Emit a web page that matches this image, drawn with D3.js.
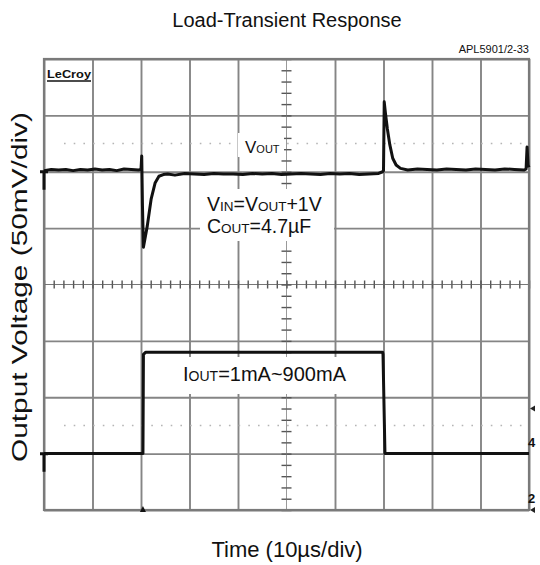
<!DOCTYPE html>
<head>
    <meta charset="utf-8">
    <title>Load-Transient Response</title>
    <script type="text/javascript" src="https://d3js.org/d3.v7.min.js"></script>
    <style>
        body { margin: 0; background: #fff; }
        text { font-family: "Liberation Sans", Arial, sans-serif; fill: #111; }
    </style>
</head>
<body>
<div id="container"></div>
<script>
    //----------------------------DATA-------------------------------//
    // time axis: 10 divisions of 10us
    const timeTicks = d3.range(0, 101, 10);
    // vertical axis: 8 divisions, values in div
    const divTicks = d3.range(-4, 5, 1);

    // Vout trace: time (us) and deviation from nominal (mV), 50mV/div
    const voutTime = [0, 1.5, 3, 4.5, 6, 7.5, 9, 10.5, 12, 13.5, 15, 16.5, 18, 19.5, 20.0, 20.15, 20.3,
        20.5, 21.3, 22.1, 22.9, 23.7, 24.6, 25.5, 27, 29, 31, 33, 35, 37, 39, 41, 43, 45,
        47, 49, 51, 53, 55, 57, 59, 61, 63, 65, 67, 69, 69.8, 70.0, 70.15, 70.4, 70.8, 71.3, 71.9,
        72.6, 73.5, 75, 77, 79, 81, 83, 85, 87, 89, 91, 93, 95, 97, 99, 99.4, 99.6, 99.8, 100];
    const voutMv = [1, 2, 1.5, 2, 1, 2, 1.5, 2.5, 1.5, 2, 1, 2.5, 2, 1.5, 2, 14, -30,
        -67, -48, -24, -10, -4, -2.5, -2, -3, -1.5, -2, -2.5, -1.5, -2, -2, -2.5, -1.5, -2,
        -1.5, -2.5, -2, -1.5, -2, -2.5, -1.5, -2, -1.5, -2.5, -2, -1.5, 0, 1, 62, 52, 38, 24, 12,
        6, 3, 1.5, 2.5, 2, 1.5, 2.5, 2, 1.5, 2.5, 2, 1.5, 2.5, 2, 1.5, 2.5, 22, 6, 4];
    const voutLevel = 100; // mV above screen centre

    // Iout trace: time (us) and load current (mA), 500mA/div
    const ioutTime = [0, 20.4, 20.5, 21.0, 69.8, 69.9, 70.3, 100];
    const ioutMa = [1, 1, 880, 900, 900, 880, 1, 1];
    const ioutLevel = -3; // div, zero-current position

    //---------------------------SVG---------------------------------//
    const width = 540, height = 565;
    const box = {left: 44, right: 529, top: 59, bottom: 510};

    const svg = d3.select("#container").append("svg")
        .attr("width", width)
        .attr("height", height);

    svg.append("rect").attr("width", width).attr("height", height).attr("fill", "#fff");

    const x = d3.scaleLinear().domain([0, 100]).range([box.left, box.right]);
    const y = d3.scaleLinear().domain([-4, 4]).range([box.bottom, box.top]);

    //---------------------------GRID--------------------------------//
    const gridColor = "#858585";

    const gx = svg.append("g")
        .attr("transform", `translate(0, ${box.bottom})`)
        .call(d3.axisBottom(x).tickValues(timeTicks).tickSize(-(box.bottom - box.top)).tickFormat(""));
    const gy = svg.append("g")
        .attr("transform", `translate(${box.left}, 0)`)
        .call(d3.axisLeft(y).tickValues(divTicks).tickSize(-(box.right - box.left)).tickFormat(""));
    [gx, gy].forEach(g => {
        g.select(".domain").remove();
        g.selectAll(".tick line").attr("stroke", gridColor).attr("stroke-width", 1.9);
    });
    // hide the centre gridlines, they are drawn thin with ticks below
    gx.selectAll(".tick line").filter(d => d === 50).remove();
    gy.selectAll(".tick line").filter(d => d === 0).remove();

    // dotted reference lines at +/-2.5 div
    [2.5, -2.5].forEach(v => {
        svg.append("line")
            .attr("x1", box.left + 20).attr("x2", box.right - 6)
            .attr("y1", y(v)).attr("y2", y(v))
            .attr("stroke", "#b5b5b5").attr("stroke-width", 1.6)
            .attr("stroke-dasharray", "1.6,8.1");
    });

    // centre axes with minor ticks (1/5 div)
    svg.append("line")
        .attr("x1", x(50)).attr("x2", x(50)).attr("y1", box.top).attr("y2", box.bottom)
        .attr("stroke", "#9a9a9a").attr("stroke-width", 1);
    svg.append("line")
        .attr("x1", box.left).attr("x2", box.right).attr("y1", y(0)).attr("y2", y(0))
        .attr("stroke", "#777").attr("stroke-width", 1.2);

    const cx = svg.append("g")
        .attr("transform", `translate(0, ${y(0)})`)
        .call(d3.axisBottom(x).tickValues(d3.range(0, 101, 2)).tickSize(4).tickFormat(""));
    const cx2 = svg.append("g")
        .attr("transform", `translate(0, ${y(0)})`)
        .call(d3.axisTop(x).tickValues(d3.range(0, 101, 2)).tickSize(4).tickFormat(""));
    const cy = svg.append("g")
        .attr("transform", `translate(${x(50)}, 0)`)
        .call(d3.axisLeft(y).tickValues(d3.range(-4, 4.01, 0.2)).tickSize(5).tickFormat(""));
    const cy2 = svg.append("g")
        .attr("transform", `translate(${x(50)}, 0)`)
        .call(d3.axisRight(y).tickValues(d3.range(-4, 4.01, 0.2)).tickSize(5).tickFormat(""));
    [cx, cx2, cy, cy2].forEach(g => {
        g.select(".domain").remove();
        g.selectAll(".tick line").attr("stroke", "#555").attr("stroke-width", 1.4);
    });

    // outer frame
    svg.append("rect")
        .attr("x", box.left).attr("y", box.top)
        .attr("width", box.right - box.left).attr("height", box.bottom - box.top)
        .attr("fill", "none").attr("stroke", "#7a7a7a").attr("stroke-width", 2.2);

    //---------------------------LABEL BOXES-------------------------//
    svg.append("rect").attr("x", 238).attr("y", 133).attr("width", 46).attr("height", 24).attr("fill", "#fff");
    svg.append("rect").attr("x", 200).attr("y", 189).attr("width", 134).attr("height", 52).attr("fill", "#fff");
    svg.append("rect").attr("x", 168).attr("y", 357).attr("width", 198).attr("height", 37).attr("fill", "#fff");

    //---------------------------TRACES------------------------------//
    const voutLine = d3.line()
        .x((d, i) => x(voutTime[i]))
        .y(d => y((d + voutLevel) / 50));
    svg.append("path")
        .attr("d", voutLine(voutMv))
        .attr("fill", "none").attr("stroke", "#111").attr("stroke-width", 3)
        .attr("stroke-linejoin", "round");

    const ioutLine = d3.line()
        .x((d, i) => x(ioutTime[i]))
        .y(d => y(ioutLevel + d / 500));
    svg.append("path")
        .attr("d", ioutLine(ioutMa))
        .attr("fill", "none").attr("stroke", "#111").attr("stroke-width", 3)
        .attr("stroke-linejoin", "round");

    // channel level markers on the left edge
    [voutLevel / 50, ioutLevel].forEach(v => {
        svg.append("path")
            .attr("d", `M${box.left - 4},${y(v)} L${box.left + 4},${y(v)} M${box.left},${y(v)} L${box.left},${y(v) + 18}`)
            .attr("stroke", "#111").attr("stroke-width", 3).attr("fill", "none");
    });
    // trigger marker
    svg.append("path")
        .attr("d", `M${x(20.4) - 3},${box.bottom + 2} L${x(20.4)},${box.bottom - 4} L${x(20.4) + 3},${box.bottom + 2}Z`)
        .attr("fill", "#111");
    // right edge markers
    [-2.2, -4].forEach(v => {
        svg.append("path")
            .attr("d", `M${box.right + 1},${y(v)} L${box.right + 6},${y(v) - 3} L${box.right + 6},${y(v) + 3}Z`)
            .attr("fill", "#222");
    });
    svg.append("text").attr("x", 528).attr("y", 447).attr("font-size", 13).attr("font-weight", "bold").text("4");
    svg.append("text").attr("x", 528).attr("y", 503).attr("font-size", 13).attr("font-weight", "bold").text("2");

    // LeCroy logo
    svg.append("text")
        .attr("x", 47).attr("y", 78)
        .attr("font-size", 11).attr("font-weight", "bold")
        .attr("font-family", "DejaVu Sans Mono, monospace")
        .attr("textLength", 44).attr("lengthAdjust", "spacingAndGlyphs")
        .text("LeCroy");
    svg.append("line").attr("x1", 47).attr("x2", 91).attr("y1", 81).attr("y2", 81)
        .attr("stroke", "#111").attr("stroke-width", 1.5);

    //---------------------------TEXT--------------------------------//
    function subLabel(xp, yp, parts, big, small) {
        const t = svg.append("text").attr("x", xp).attr("y", yp).attr("font-size", big);
        parts.forEach(p => t.append("tspan").attr("font-size", p[1] ? small : big).text(p[0]));
        return t;
    }
    subLabel(245, 153, [["V", 0], ["OUT", 1]], 17, 11);
    subLabel(207, 211, [["V", 0], ["IN", 1], ["=V", 0], ["OUT", 1], ["+1V", 0]], 19.5, 13.5);
    subLabel(207, 233, [["C", 0], ["OUT", 1], ["=4.7µF", 0]], 19.5, 13.5);
    subLabel(183, 381, [["I", 0], ["OUT", 1], ["=1mA~900mA", 0]], 20, 14);

    svg.append("text")
        .attr("x", 287).attr("y", 27)
        .attr("text-anchor", "middle").attr("font-size", 20)
        .text("Load-Transient Response");
    svg.append("text")
        .attr("x", 529).attr("y", 53)
        .attr("text-anchor", "end").attr("font-size", 11)
        .text("APL5901/2-33");
    svg.append("text")
        .attr("x", 287).attr("y", 557)
        .attr("text-anchor", "middle").attr("font-size", 22)
        .text("Time (10µs/div)");
    svg.append("text")
        .attr("transform", "translate(27, 287) rotate(-90)")
        .attr("text-anchor", "middle").attr("font-size", 22.5)
        .attr("textLength", 350).attr("lengthAdjust", "spacingAndGlyphs")
        .text("Output Voltage (50mV/div)");
</script>
</body>
